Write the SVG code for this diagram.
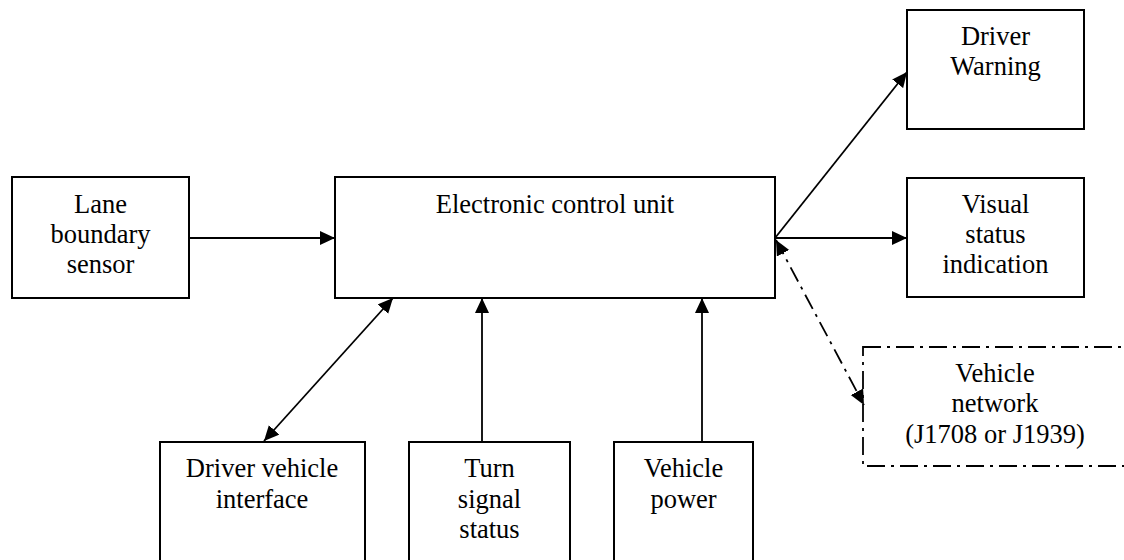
<svg xmlns="http://www.w3.org/2000/svg" width="1124" height="560" viewBox="0 0 1124 560">
<style>
.box{fill:#fff;stroke:#000;stroke-width:2}
.dash{fill:none;stroke:#000;stroke-width:1.8;stroke-dasharray:18 6 3 6}
.t{font-family:'Liberation Serif','Times New Roman',serif;font-size:26.5px;fill:#000;text-anchor:middle}
.ln{stroke:#000;stroke-width:1.8;fill:none}
.dl{stroke:#000;stroke-width:1.8;fill:none;stroke-dasharray:16 6 3 6}
</style>
<defs>
<marker id="ah" markerWidth="17" markerHeight="15" refX="15" refY="7" orient="auto-start-reverse" markerUnits="userSpaceOnUse">
<path d="M0,0 L15,7 L0,14 Z" fill="#000"/>
</marker>
</defs>
<rect width="1124" height="560" fill="#fff"/>
<g id="connectors">
<line class="ln" x1="189" y1="238" x2="335" y2="238" marker-end="url(#ah)"/>
<line class="ln" x1="775" y1="238" x2="907" y2="72" marker-end="url(#ah)"/>
<line class="ln" x1="775" y1="238" x2="907" y2="238" marker-end="url(#ah)"/>
<line class="dl" x1="776" y1="240" x2="864" y2="405" marker-start="url(#ah)" marker-end="url(#ah)"/>
<line class="ln" x1="264" y1="441" x2="393" y2="298" marker-start="url(#ah)" marker-end="url(#ah)"/>
<line class="ln" x1="482" y1="442" x2="482" y2="298" marker-end="url(#ah)"/>
<line class="ln" x1="702" y1="442" x2="702" y2="298" marker-end="url(#ah)"/>
</g>
<g class="t">
<g id="lane">
<rect class="box" x="12" y="177" width="177" height="121"/>
<text x="100.5" y="213">Lane</text>
<text x="100.5" y="243">boundary</text>
<text x="100.5" y="273">sensor</text>
</g>
<g id="ecu">
<rect class="box" x="335" y="177" width="440" height="121"/>
<text x="555" y="213">Electronic control unit</text>
</g>
<g id="warning">
<rect class="box" x="907" y="10" width="177" height="119"/>
<text x="995.5" y="45">Driver</text>
<text x="995.5" y="75">Warning</text>
</g>
<g id="visual">
<rect class="box" x="907" y="178" width="177" height="119"/>
<text x="995.5" y="213">Visual</text>
<text x="995.5" y="243">status</text>
<text x="995.5" y="273">indication</text>
</g>
<g id="network">
<rect class="dash" x="863" y="347" width="265" height="119"/>
<text x="995" y="382">Vehicle</text>
<text x="995" y="412">network</text>
<text x="995" y="443">(J1708 or J1939)</text>
</g>
<g id="dvi">
<rect class="box" x="160" y="442" width="205" height="130"/>
<text x="262" y="477">Driver vehicle</text>
<text x="262" y="507.5">interface</text>
</g>
<g id="turn">
<rect class="box" x="409" y="442" width="161" height="130"/>
<text x="489.5" y="477">Turn</text>
<text x="489.5" y="507.5">signal</text>
<text x="489.5" y="538">status</text>
</g>
<g id="power">
<rect class="box" x="614" y="442" width="139" height="130"/>
<text x="683.5" y="477">Vehicle</text>
<text x="683.5" y="507.5">power</text>
</g>
</g>
</svg>
